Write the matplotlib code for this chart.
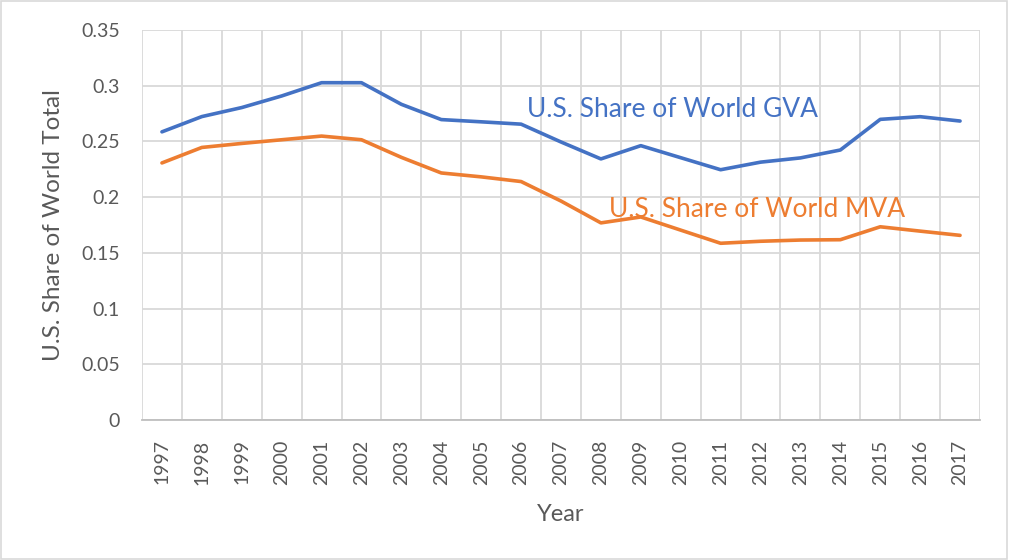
import matplotlib
matplotlib.use("Agg")
import matplotlib.pyplot as plt
from matplotlib.patches import Rectangle
import numpy as np

plt.rcParams['font.family'] = ['Lato', 'DejaVu Sans']

# data
years = [str(y) for y in range(1997, 2018)]
gva_share = [0.2586, 0.2723, 0.2804, 0.2908, 0.3027, 0.3027, 0.2833, 0.2696, 0.2676, 0.2655,
             0.2495, 0.2343, 0.2462, 0.2354, 0.2246, 0.2314, 0.2352, 0.2423, 0.2698, 0.2722, 0.2683]
mva_share = [0.2307, 0.2446, 0.2482, 0.2515, 0.2548, 0.2515, 0.2357, 0.2217, 0.2182, 0.2140,
             0.1965, 0.1769, 0.1822, 0.1704, 0.1586, 0.1604, 0.1615, 0.1618, 0.1734, 0.1695, 0.1657]
y_ticks = [0, 0.05, 0.1, 0.15, 0.2, 0.25, 0.3, 0.35]
y_labels = ['0', '0.05', '0.1', '0.15', '0.2', '0.25', '0.3', '0.35']

blue = '#4472C4'
orange = '#ED7D31'
grid_c = '#D9D9D9'
text_c = '#595959'

fig = plt.figure(figsize=(10.09, 5.6), dpi=100)
fig.patches.append(Rectangle((0.001, 0.002), 0.997, 0.996, transform=fig.transFigure,
                             fill=False, edgecolor='#D9D9D9', linewidth=1.2))
ax = fig.add_axes([142/1009, 1 - 420/560, 838/1009, 390/560])

x = np.arange(len(years))
ax.plot(x, gva_share, color=blue, linewidth=2.6, solid_capstyle='round')
ax.plot(x, mva_share, color=orange, linewidth=2.6, solid_capstyle='round')

ax.set_xlim(-0.5, len(years) - 0.5)
ax.set_ylim(0, 0.35)
ax.set_yticks(y_ticks)
ax.set_yticklabels(y_labels)
ax.set_xticks(x)
ax.set_xticklabels(years, rotation=90)
ax.set_xticks(np.arange(-0.5, len(years)), minor=True)

ax.grid(axis='y', which='major', color=grid_c, linewidth=1.3)
ax.grid(axis='x', which='minor', color=grid_c, linewidth=1.3)
ax.set_axisbelow(True)
for s in ['top', 'right', 'left']:
    ax.spines[s].set_visible(False)
ax.spines['bottom'].set_color('#BFBFBF')
ax.spines['bottom'].set_linewidth(1.3)
ax.tick_params(axis='both', which='both', length=0, colors=text_c, labelsize=14)
ax.tick_params(axis='y', pad=16)
ax.tick_params(axis='x', pad=14)

ax.set_ylabel('U.S. Share of World Total', fontsize=17.5, color=text_c, labelpad=12)
ax.set_xlabel('Year', fontsize=17, color=text_c, labelpad=14)

ax.text(9.15, 0.279, 'U.S. Share of World GVA', color=blue, fontsize=19, va='center', ha='left')
ax.text(11.2, 0.189, 'U.S. Share of World MVA', color=orange, fontsize=19, va='center', ha='left')

fig.savefig('out.png', dpi=100)
